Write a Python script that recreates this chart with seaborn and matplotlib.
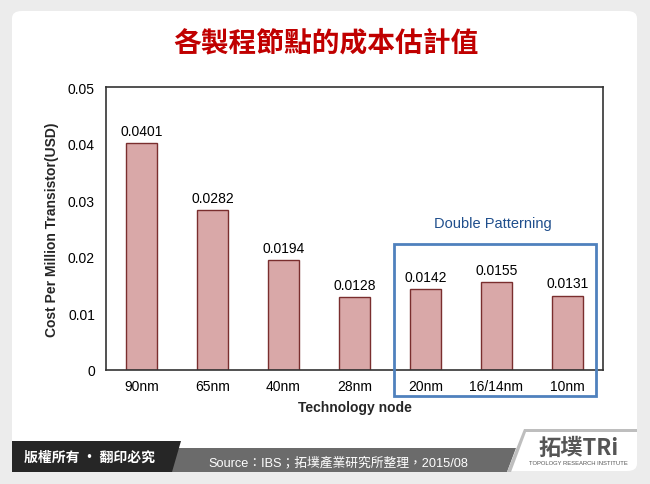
import matplotlib
matplotlib.use("Agg")
import matplotlib.pyplot as plt
import seaborn as sns
import pandas as pd
from matplotlib.patches import Rectangle, Polygon, FancyBboxPatch

nodes = ["90nm", "65nm", "40nm", "28nm", "20nm", "16/14nm", "10nm"]
costs = [0.0401, 0.0282, 0.0194, 0.0128, 0.0142, 0.0155, 0.0131]
label_texts = ["0.0401", "0.0282", "0.0194", "0.0128", "0.0142", "0.0155", "0.0131"]
yticks = [0, 0.01, 0.02, 0.03, 0.04, 0.05]
ytick_labels = ["0", "0.01", "0.02", "0.03", "0.04", "0.05"]
title = "各製程節點的成本估計值"
source = "Source：IBS；拓墣產業研究所整理，2015/08"
copyright_txt = "版權所有 · 翻印必究"
highlight_label = "Double Patterning"

sns.set_theme(style="white")
plt.rcParams['font.family'] = ['Liberation Sans', 'Noto Sans CJK TC', 'DejaVu Sans']

W, H = 650, 485
fig = plt.figure(figsize=(W / 100, H / 100), dpi=100)
fig.patch.set_facecolor("#ECECEC")

def fx(px):
    return px / W

def fy(py):
    return 1 - py / H

# white rounded panel
panel = FancyBboxPatch((fx(12), fy(472)), fx(625), (460) / H,
                       boxstyle="round,pad=0,rounding_size=0.015",
                       transform=fig.transFigure, facecolor="white",
                       edgecolor="none", zorder=-5)
fig.patches.append(panel)

# title
fig.text(fx(326), fy(43), title, fontsize=20, fontweight="bold", color="#C00000",
         ha="center", va="center", family=['Noto Sans CJK TC', 'DejaVu Sans'])

# axes
ax = fig.add_axes([fx(106), fy(370.7), fx(603 - 106), (370.7 - 88.3) / H])
ax.set_zorder(1)
ax.set_facecolor("none")
df = pd.DataFrame({"node": nodes, "cost": costs})
sns.barplot(data=df, x="node", y="cost", color="#D9A8A8", edgecolor="#7A2E2E",
            linewidth=1.0, width=0.45, saturation=1, ax=ax)
ax.set_xlim(-0.5, len(nodes) - 0.5)
ax.set_ylim(0, 0.05)
ax.set_yticks(yticks)
ax.set_yticklabels(ytick_labels)
ax.tick_params(axis="both", length=0, labelsize=10, colors="black", pad=8)
ax.tick_params(axis="x", pad=7)
for s in ax.spines.values():
    s.set_visible(True)
    s.set_color("#333333")
    s.set_linewidth(1.2)
ax.set_xlabel("Technology node", fontsize=10, fontweight="bold", labelpad=5)
ax.set_ylabel("Cost Per Million Transistor(USD)", fontsize=10, fontweight="bold", labelpad=6)

for i, (v, t) in enumerate(zip(costs, label_texts)):
    ax.annotate(t, (i, v), xytext=(0, 4), textcoords="offset points",
                ha="center", va="bottom", fontsize=10, color="black")

# Double patterning highlight
tr = ax.get_xaxis_transform()
rect = Rectangle((3.556, -0.093), 6.4 - 3.556, 0.445 + 0.093, transform=tr,
                 fill=False, edgecolor="#4F81BD", linewidth=2, clip_on=False, zorder=5)
ax.add_patch(rect)
ax.text(4.95, 0.519, highlight_label, transform=tr, ha="center", va="center",
        fontsize=10.5, color="#1F4E8C")

# footer
dark = Polygon([[fx(12), fy(442)], [fx(181), fy(442)], [fx(172), fy(473)], [fx(12), fy(473)]],
               closed=True, transform=fig.transFigure, facecolor="#262626", edgecolor="none", zorder=2)
fig.patches.append(dark)
gray = Polygon([[fx(178), fy(449)], [fx(516), fy(449)], [fx(507), fy(473)], [fx(168), fy(473)]],
               closed=True, transform=fig.transFigure, facecolor="#6B6B6B", edgecolor="none", zorder=1.5)
fig.patches.append(gray)
line = Polygon([[fx(524), fy(430)], [fx(637), fy(430)], [fx(637), fy(433)], [fx(526), fy(433)],
                [fx(511), fy(473)], [fx(507), fy(473)]],
               closed=True, transform=fig.transFigure, facecolor="#BEBEBE", edgecolor="none", zorder=1.5)
fig.patches.append(line)
fig.text(fx(90), fy(458), copyright_txt, fontsize=10, fontweight="bold", color="white",
         ha="center", va="center", family=['Noto Sans CJK TC', 'DejaVu Sans'], zorder=3)
fig.text(fx(208), fy(463), source, fontsize=9.2, color="white", ha="left", va="center", zorder=3,
         family=['Liberation Sans', 'Noto Sans CJK TC', 'DejaVu Sans'])
fig.text(fx(578), fy(448), "拓墣TRi", fontsize=16, fontweight="bold", color="#555555",
         ha="center", va="center", family=['Noto Sans CJK TC', 'DejaVu Sans'], zorder=3)
fig.text(fx(578), fy(464), "TOPOLOGY RESEARCH INSTITUTE", fontsize=4.2, color="#555555",
         ha="center", va="center", zorder=3)

fig.savefig("out.png", dpi=100)
